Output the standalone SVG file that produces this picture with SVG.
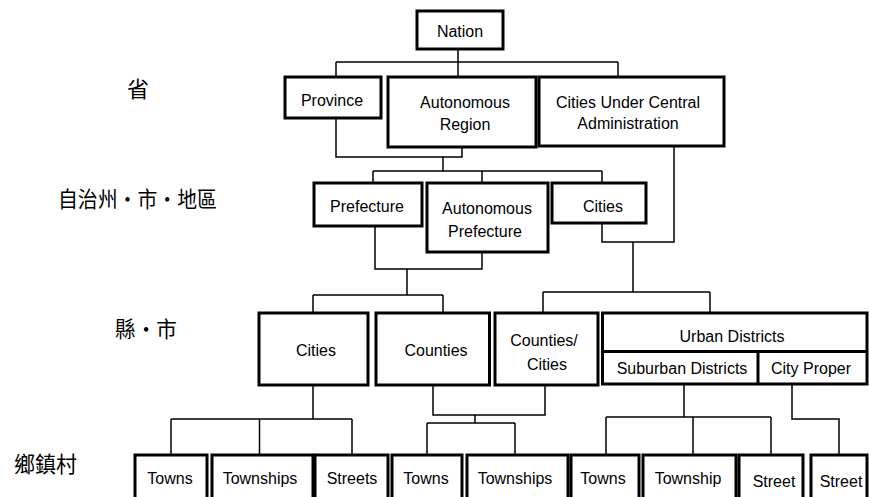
<svg xmlns="http://www.w3.org/2000/svg" width="869" height="497" viewBox="0 0 869 497">
<style>
.b{fill:#fff;stroke:#000;stroke-width:3}
.t{font-family:"Liberation Sans",Arial,sans-serif;font-size:16px;fill:#000;text-anchor:middle}
.c{font-family:"Noto Sans CJK TC","Noto Sans CJK SC",sans-serif;font-size:22px;fill:#000}
.k{fill:none;stroke:#000;stroke-width:1.5}
</style>
<rect width="869" height="497" fill="#fff"/>
<g id="connectors">
<path class="k" d="M458,49V62M336,62H618M336,62V77M458,62V77M618,62V77"/>
<path class="k" d="M336,118V157H462V147M443,157V171"/>
<path class="k" d="M373,171H602M373,171V183M482,171V183M602,171V183"/>
<path class="k" d="M375,226V269H482V252M407,269V295M313,295H443M313,295V313M443,295V313"/>
<path class="k" d="M602,223V242H674V146M633,242V292M543,292H710M543,292V313M710,292V313"/>
<path class="k" d="M313,385V419M171,419H352M171,419V455M259.5,419V455M352,419V455"/>
<path class="k" d="M433,385V415H545V385M475,415V423M427,423H515M427,423V455M515,423V455"/>
<path class="k" d="M684,384V417M606,417H771M606,417V455M693,417V455M771,417V455"/>
<path class="k" d="M792,384V419H839V455"/>
</g>
<g id="labels">
<text class="c" x="138" y="96.5" text-anchor="middle">省</text>
<text class="c" x="58" y="206.5" textLength="159" lengthAdjust="spacingAndGlyphs">自治州·市·地區</text>
<text class="c" x="115" y="336.5" textLength="62" lengthAdjust="spacingAndGlyphs">縣·市</text>
<text class="c" x="14" y="471.5" font-size="21" textLength="63" lengthAdjust="spacingAndGlyphs">鄉鎮村</text>
</g>
<g id="nation"><rect class="b" x="417" y="11" width="86" height="38"/><text class="t" x="460" y="36.5">Nation</text></g>
<g id="province"><rect class="b" x="285" y="77" width="96" height="41"/><text class="t" x="332" y="106">Province</text></g>
<g id="autonomous-region"><rect class="b" x="388" y="77" width="148" height="70"/><text class="t" x="465" y="108">Autonomous</text><text class="t" x="465" y="130">Region</text></g>
<g id="cuca"><rect class="b" x="539" y="77" width="185" height="69"/><text class="t" x="628" y="108">Cities Under Central</text><text class="t" x="628" y="128.5">Administration</text></g>
<g id="prefecture"><rect class="b" x="314" y="183" width="108" height="43"/><text class="t" x="367" y="211.5">Prefecture</text></g>
<g id="autonomous-prefecture"><rect class="b" x="427" y="183" width="121" height="69"/><text class="t" x="487" y="214">Autonomous</text><text class="t" x="485" y="236.5">Prefecture</text></g>
<g id="cities-l2"><rect class="b" x="552" y="183" width="94" height="40"/><text class="t" x="603" y="211.5">Cities</text></g>
<g id="cities-l3"><rect class="b" x="259" y="313" width="109" height="72"/><text class="t" x="316" y="356">Cities</text></g>
<g id="counties"><rect class="b" x="376" y="313" width="113.5" height="72"/><text class="t" x="436" y="356">Counties</text></g>
<g id="counties-cities"><rect class="b" x="495" y="313" width="103" height="72"/><text class="t" x="544" y="346">Counties/</text><text class="t" x="547" y="370">Cities</text></g>
<g id="urban-districts"><rect class="b" x="602.5" y="313" width="264.5" height="71"/><path class="b" d="M602.5,351.5H867M758,351.5V384"/><text class="t" x="732" y="342">Urban Districts</text><text class="t" x="682" y="374">Suburban Districts</text><text class="t" x="811" y="374">City Proper</text></g>
<g id="towns-1"><rect class="b" x="135" y="455" width="72" height="60"/><text class="t" x="170" y="484">Towns</text></g>
<g id="townships-1"><rect class="b" x="212" y="455" width="101" height="60"/><text class="t" x="260" y="484">Townships</text></g>
<g id="streets"><rect class="b" x="315" y="455" width="73" height="60"/><text class="t" x="352" y="484">Streets</text></g>
<g id="towns-2"><rect class="b" x="392" y="455" width="70" height="60"/><text class="t" x="426" y="484">Towns</text></g>
<g id="townships-2"><rect class="b" x="467" y="455" width="101" height="60"/><text class="t" x="515" y="484">Townships</text></g>
<g id="towns-3"><rect class="b" x="571" y="455" width="68" height="60"/><text class="t" x="603" y="484">Towns</text></g>
<g id="township"><rect class="b" x="643" y="455" width="93" height="60"/><text class="t" x="688" y="483.5">Township</text></g>
<g id="street-1"><rect class="b" x="739" y="455" width="64" height="60"/><text class="t" x="774" y="486.5">Street</text></g>
<g id="street-2"><rect class="b" x="811" y="455" width="56" height="60"/><text class="t" x="841" y="486.5">Street</text></g>
</svg>
